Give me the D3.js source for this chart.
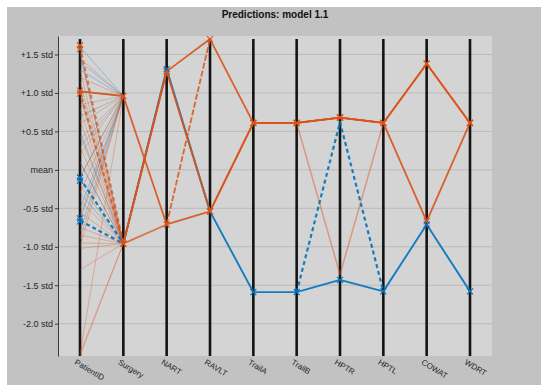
<!DOCTYPE html>
<html>
<head>
<meta charset="utf-8">
<script src="https://cdn.jsdelivr.net/npm/d3@7"></script>
<style>
  html, body { margin: 0; padding: 0; background: #ffffff; }
  svg { display: block; }
  text { font-family: "Liberation Sans", Arial, Helvetica, sans-serif; }
</style>
</head>
<body>
<svg id="chart" width="541" height="385"></svg>
<script>
// ---------------- data ----------------
const categories = ["PatientID", "Surgery", "NART", "RAVLT", "TrailA", "TrailB", "HPTR", "HPTL", "COWAT", "WDRT"];
const yTickValues = [1.5, 1.0, 0.5, 0, -0.5, -1.0, -1.5, -2.0];
const yTickLabels = ["+1.5 std", "+1.0 std", "+0.5 std", "mean", "-0.5 std", "-1.0 std", "-1.5 std", "-2.0 std"];
const titleText = "Predictions: model 1.1";

// faint individual lines: [PatientID value, Surgery value]
const faintOrange = [
  [1.55, -0.96], [1.30, -0.96], [1.15, -0.96], [0.95, -0.96], [0.80, -0.96], [0.65, -0.96],
  [0.45, -0.96], [0.30, -0.96], [0.10, -0.96], [-0.20, -0.96], [-0.40, -0.96], [-0.55, -0.96],
  [-0.75, -0.96], [-0.85, -0.96], [-0.95, -0.96], [-1.02, -0.96], [-1.30, -0.96], [-2.38, -0.96], [-2.42, -0.96],
  [1.45, 0.96], [1.20, 0.96], [1.02, 0.96], [0.85, 0.96], [0.60, 0.96], [0.40, 0.96], [0.20, 0.96],
  [-0.10, 0.96], [-0.30, 0.96], [-0.60, 0.96], [-0.90, 0.96], [-1.00, 0.96], [-2.40, 0.96]
];
const faintBlue = [
  [1.60, 0.96], [1.40, 0.96], [1.30, 0.96], [1.02, 0.96], [0.70, 0.96], [0.30, 0.96], [-0.10, 0.96],
  [-0.50, 0.96], [-0.65, 0.96], [-0.80, 0.96],
  [1.50, -0.96], [1.00, -0.96], [0.50, -0.96], [0.10, -0.96], [-0.30, -0.96]
];

// main predicted profiles (null = not drawn on that axis)
const orangeSolid1 = [1.02, 0.96, -0.71, -0.54, 0.61, 0.61, 0.68, 0.61, 1.38, 0.61];
const orangeSolid2 = [null, -0.96, 1.28, 1.70, 0.61, 0.61, 0.68, 0.61, -0.67, 0.61];
const orangeSolid3 = [null, -0.96, 1.28, -0.54, 0.61, 0.61, 0.68, 0.61, 1.38, 0.61];
const orangeSolid4 = [null, -0.96, -0.71, null, null, null, null, null, null, null];
const orangeDashed1 = [1.60, -0.96, null, null, null, null, null, null, null, null];
const orangeDashed2 = [1.02, -0.96, null, null, null, null, null, null, null, null];
const orangeDashed3 = [null, null, -0.71, 1.70, null, null, null, null, null, null];
const orangeLight = [null, null, null, null, null, 0.61, -1.36, 0.61, null, null];
const blueSolid = [null, -0.96, 1.31, -0.54, -1.59, -1.59, -1.43, -1.58, -0.71, -1.58];
const blueDashed1 = [-0.11, -0.96, null, null, null, null, null, null, null, null];
const blueDashed2 = [-0.66, -0.96, null, null, null, null, null, null, null, null];
const blueDashed3 = [null, null, null, null, null, -1.59, 0.62, -1.58, null, null];
const orangePidMarks = [1.62, 1.57, 1.03, 0.99];
const bluePidMarks = [-0.10, -0.14, -0.63, -0.67];

// ---------------- drawing ----------------
const ORANGE = "#d95319";
const BLUE = "#0072bd";
const svg = d3.select("#chart");
const W = 541, H = 385;
const plot = { left: 58, right: 492, top: 36, bottom: 356 };

svg.append("rect").attr("x", 0).attr("y", 0).attr("width", W).attr("height", H).attr("fill", "#ffffff");
svg.append("rect").attr("x", 7).attr("y", 7).attr("width", W - 7).attr("height", H - 7).attr("fill", "#c2c2c2");
svg.append("rect").attr("x", plot.left).attr("y", plot.top)
  .attr("width", plot.right - plot.left).attr("height", plot.bottom - plot.top).attr("fill", "#d4d4d4");

const x = d3.scalePoint().domain(categories).range([80, 470]);
const y = d3.scaleLinear().domain([-2.42, 1.74]).range([plot.bottom, plot.top]);

// grid
svg.append("g").selectAll("line").data(yTickValues).join("line")
  .attr("x1", plot.left).attr("x2", plot.right)
  .attr("y1", d => y(d)).attr("y2", d => y(d))
  .attr("stroke", "#bababa").attr("stroke-width", 1);

// y axis
const yAxis = d3.axisLeft(y).tickValues(yTickValues).tickSize(3).tickSizeOuter(0)
  .tickFormat((d, i) => yTickLabels[i]);
const gy = svg.append("g").attr("transform", `translate(${plot.left},0)`).call(yAxis);
gy.select(".domain").attr("stroke", "#3a3a3a").attr("stroke-width", 1);
gy.selectAll(".tick line").attr("stroke", "#3a3a3a");
gy.selectAll(".tick text").attr("font-size", 9).attr("fill", "#262626").attr("x", -5)
  .attr("font-family", "Liberation Sans, Arial, sans-serif");

// vertical category axes
svg.append("g").selectAll("line").data(categories).join("line")
  .attr("x1", d => x(d)).attr("x2", d => x(d))
  .attr("y1", 39).attr("y2", plot.bottom)
  .attr("stroke", "#141414").attr("stroke-width", 2.6);

// x labels
svg.append("g").selectAll("text").data(categories).join("text")
  .attr("transform", d => `translate(${x(d) - 3},${plot.bottom + 3}) rotate(31)`)
  .attr("font-size", 8).attr("fill", "#262626")
  .attr("dominant-baseline", "hanging")
  .text(d => d);

const line = d3.line()
  .defined(d => d.v !== null)
  .x(d => x(d.c)).y(d => y(d.v));
const toPts = arr => arr.map((v, i) => ({ c: categories[i], v }));

// faint lines
const gf = svg.append("g");
faintBlue.forEach(p => {
  gf.append("path").attr("d", line(toPts([p[0], p[1], null, null, null, null, null, null, null, null])))
    .attr("fill", "none").attr("stroke", BLUE).attr("stroke-opacity", 0.3).attr("stroke-width", 1);
});
faintOrange.forEach(p => {
  gf.append("path").attr("d", line(toPts([p[0], p[1], null, null, null, null, null, null, null, null])))
    .attr("fill", "none").attr("stroke", ORANGE).attr("stroke-opacity", 0.33).attr("stroke-width", 1);
});

function drawSeries(arr, color, opts) {
  svg.append("path").attr("d", line(toPts(arr)))
    .attr("fill", "none").attr("stroke", color)
    .attr("stroke-width", opts.width || 1.8)
    .attr("stroke-opacity", opts.opacity || 0.9)
    .attr("stroke-dasharray", opts.dash || null)
    .attr("stroke-linejoin", "round");
}

drawSeries(blueSolid, BLUE, { width: 1.9 });
drawSeries(orangeLight, ORANGE, { width: 1.5, opacity: 0.45 });
drawSeries(orangeSolid3, ORANGE, {});
drawSeries(orangeSolid2, ORANGE, {});
drawSeries(orangeSolid1, ORANGE, {});
drawSeries(orangeSolid4, ORANGE, { opacity: 0.75 });
drawSeries(orangeDashed1, ORANGE, { width: 2.2, dash: "4,3", opacity: 0.75 });
drawSeries(orangeDashed2, ORANGE, { width: 2.2, dash: "4,3", opacity: 0.75 });
drawSeries(orangeDashed3, ORANGE, { width: 1.8, dash: "6,2", opacity: 0.85 });
drawSeries(blueDashed1, BLUE, { width: 2.2, dash: "4,3" });
drawSeries(blueDashed2, BLUE, { width: 2.2, dash: "4,3" });
drawSeries(blueDashed3, BLUE, { width: 2.2, dash: "4,3" });

// markers
function xMarker(cx, cy, color) {
  const s = 3;
  svg.append("path")
    .attr("d", `M${cx - s},${cy - s}L${cx + s},${cy + s}M${cx - s},${cy + s}L${cx + s},${cy - s}`)
    .attr("stroke", color).attr("stroke-width", 1.2).attr("fill", "none");
}
[orangeSolid1, orangeSolid2, orangeSolid3].forEach(arr => {
  arr.forEach((v, i) => { if (v !== null && i > 0) xMarker(x(categories[i]), y(v), ORANGE); });
});
blueSolid.forEach((v, i) => { if (v !== null && i > 3) xMarker(x(categories[i]), y(v), BLUE); });
xMarker(x("NART"), y(blueSolid[2]), BLUE);
orangePidMarks.forEach(v => xMarker(x("PatientID"), y(v), ORANGE));
bluePidMarks.forEach(v => xMarker(x("PatientID"), y(v), BLUE));

// title
svg.append("text").attr("x", (plot.left + plot.right) / 2).attr("y", 18)
  .attr("text-anchor", "middle").attr("font-size", 10).attr("font-weight", "bold")
  .attr("fill", "#111").text(titleText);
</script>
</body>
</html>
